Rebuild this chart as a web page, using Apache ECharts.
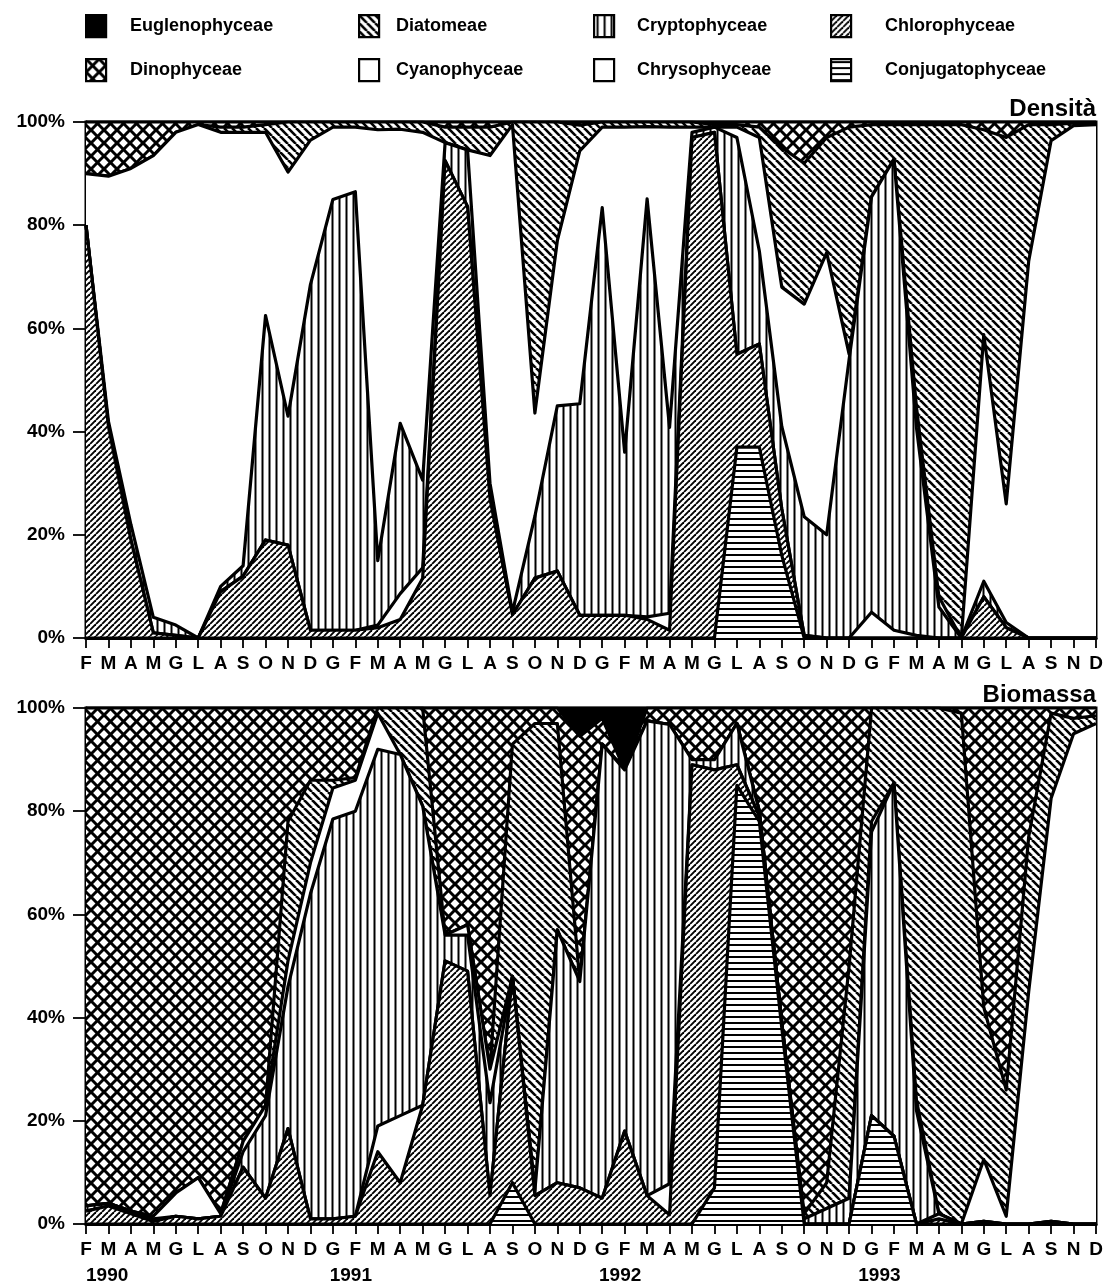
<!DOCTYPE html>
<html lang="it">
<head>
<meta charset="UTF-8">
<title>Fitoplancton - Densità e Biomassa</title>
<script src="https://cdn.jsdelivr.net/npm/echarts@6/dist/echarts.min.js"></script>
<style>
    html, body { margin: 0; padding: 0; background: #fff; }
    #container { width: 1109px; height: 1288px; }
</style>
</head>
<body>
<div id="container"></div>
<script>
    // mesi di campionamento, febbraio 1990 - dicembre 1993
    var mesi = ['F','M','A','M','G','L','A','S','O','N','D',
                'G','F','M','A','M','G','L','A','S','O','N','D',
                'G','F','M','A','M','G','L','A','S','O','N','D',
                'G','F','M','A','M','G','L','A','S','N','D'];
    var anni = ['1990', '1991', '1992', '1993'];
    var yTicks = [0, 20, 40, 60, 80, 100];

    // Densità (%)
    var dConj    = [0,0,0,0,0,0,0,0,0,0,0, 0,0,0,0,0,0,0,0,0,0,0,0, 0,0,0,0,0,0,37,37,16,0,0,0, 0,0,0,0,0,0,0,0,0,0,0];
    var dChloro  = [80,41,19,1,0.5,0,9,12,19,18,1.5, 1.5,1.5,2,3.6,11.6,92.5,83.6,27,4.5,11.6,13,4.4, 4.4,4.4,3.6,1.5,97,98,18,20,9,0.5,0,0, 0,0,0,0,0,8,2,0,0,0,0];
    var dChryso  = [0,0,0,0,0,0,0,0,0,0,0, 0,0,0.5,5,2,0,0,0,0,0,0,0, 0,0,0.5,3.3,0,0,0,0,0,0,0,0, 5,1.5,0.5,0,0,0,0,0,0,0,0];
    var dCrypto  = [0,1,3,3,2,0,1,2,43.5,25,67, 83.5,85,12.5,33,17,3.5,11,3,0.5,12,32,41, 79,31.6,81,36,1,1,42,18,16,23,20,54, 80.5,91.3,40.3,6,0,3,1,0,0,0,0];
    var dCyano   = [10,47.5,69,89.5,95.5,99.5,88,84,35.5,47.3,28, 14,12.5,83.5,57,67.4,0,0,63.5,94.5,20,32,49, 15.6,63,14,58.2,1,0,2,22,27,41.2,54.7,1, 0,0,4,2,0,47.8,23,73,96.4,99.3,99.5];
    var dDiatom  = [0,0,0,0,0,0,1,1,1.5,9.7,3.5, 1,1,1.5,1.4,2,3,4.4,5.5,0.5,56.4,23,5, 1,1,0.9,1,1,0.5,0.5,2,27,27.3,22.3,44, 14,6.7,54.7,91.5,99.5,39.7,71,26.5,3.1,0.5,0.3];
    var dDino    = [10,10.5,9,6.5,2,0.5,1,1,0.5,0,0, 0,0,0,0,0,1,1,1,0,0,0,0.6, 0,0,0,0,0,0.5,0.5,1,5,8,3,1, 0.5,0.5,0.5,0.5,0.5,1.5,3,0.5,0.5,0.2,0.2];
    var dEugleno = [0,0,0,0,0,0,0,0,0,0,0, 0,0,0,0,0,0,0,0,0,0,0,0, 0,0,0,0,0,0,0,0,0,0,0,0, 0,0,0,0,0,0,0,0,0,0,0];

    // Biomassa (%)
    var bConj    = [0,0,0,0,0,0,0,0,0,0,0, 0,0,0,0,0,0,0,0,8,0,0,0, 0,0,0,0,0,7,85,78,38,0,0,0, 21,17,0,0,0,0,0,0,0,0,0];
    var bChloro  = [2.5,3.5,2,0.5,1.5,1,1.5,11,5,18.5,1, 1,1.5,14,8,23,51,49,5.5,40,5.5,8,7, 5,18,5.5,1.8,89,81,4,1,1,0,0,0, 0,0,0,1,0,0.5,0,0,0.5,0,0];
    var bChryso  = [0,0,0,0,0,0,0,0,0,0,0, 0,0,5,13,0,0,0,0,0,0,0,0, 0,0,0,6,0,0,0,0,0,0,0,0, 0,0,0,1,0,0,0,0,0,0,0];
    var bCrypto  = [1,0.5,0.5,0.5,0,0,0,3,16,27.5,63, 77.5,78.5,73,70,58,5,7,18,0,1,49,40, 88,70,92,89,1,2,8,1,0,1,3,5, 55,68.5,22,0,0,0,0,0,0,0,0];
    var bCyano   = [0,0,0,0.5,4.5,8,0.5,2,2,5,6, 6,6,7,0,0,0,2,6.5,0,0,0,0, 0,0,0,0,0,0,0,0,0,0,0,0, 2,0,2,0,0,12,1.5,45,82,95,97];
    var bDiatom  = [0,0,0,0,0,0,0,0,0,27,16, 1.5,0.5,1,9,19,0,0,0,45,90.5,40,0, 0,0,0,0,0,0,0,0,0,1,5,45, 22,14.5,76,98,99,29.5,24.5,30,16.5,3,1.5];
    var bDino    = [96.5,96,97.5,98.5,94,91,98,84,77,22,14, 14,13.5,0,0,0,44,42,70,7,3,3,47.5, 5,0,2.5,3.2,10,10,3,20,61,98,92,50, 0,0,0,0,1,58,74,25,1,2,1.5];
    var bEugleno = [0,0,0,0,0,0,0,0,0,0,0, 0,0,0,0,0,0,0,0,0,0,0,5.5, 2,12,0,0,0,0,0,0,0,0,0,0, 0,0,0,0,0,0,0,0,0,0,0];

    var FONT = '"Liberation Sans", Arial, Helvetica, sans-serif';

    // retini in bianco e nero
    function retino(w, h, disegna) {
        var c = document.createElement('canvas');
        c.width = w; c.height = h;
        var ctx = c.getContext('2d');
        ctx.fillStyle = '#fff';
        ctx.fillRect(0, 0, w, h);
        ctx.strokeStyle = '#000';
        disegna(ctx, w, h);
        return { image: c, repeat: 'repeat' };
    }
    function diagonali(ctx, w, h, versoDestra) {
        for (var k = -1; k <= 1; k++) {
            ctx.beginPath();
            if (versoDestra) { ctx.moveTo(k * w, 0); ctx.lineTo(k * w + w, h); }
            else { ctx.moveTo(k * w, h); ctx.lineTo(k * w + w, 0); }
            ctx.stroke();
        }
    }
    var pieno = '#000';
    var bianco = '#fff';
    var reticolo = retino(13, 13, function (ctx, w, h) {
        ctx.lineWidth = 3;
        diagonali(ctx, w, h, true);
        diagonali(ctx, w, h, false);
    });
    var rovescio = retino(8, 8, function (ctx, w, h) {   // \\\
        ctx.lineWidth = 2.6;
        diagonali(ctx, w, h, true);
    });
    var obliquo = retino(6, 6, function (ctx, w, h) {    // ///
        ctx.lineWidth = 1.9;
        diagonali(ctx, w, h, false);
    });
    var verticale = retino(7, 4, function (ctx, w, h) {
        ctx.lineWidth = 2;
        ctx.beginPath(); ctx.moveTo(3.5, 0); ctx.lineTo(3.5, h); ctx.stroke();
    });
    var orizzontale = retino(4, 6, function (ctx, w, h) {
        ctx.lineWidth = 2;
        ctx.beginPath(); ctx.moveTo(0, 3); ctx.lineTo(w, 3); ctx.stroke();
    });

    // dal basso verso l'alto della pila
    var classi = [
        { nome: 'Conjugatophyceae', fill: orizzontale, dens: dConj,    biom: bConj },
        { nome: 'Chlorophyceae',    fill: obliquo,     dens: dChloro,  biom: bChloro },
        { nome: 'Chrysophyceae',    fill: bianco,      dens: dChryso,  biom: bChryso },
        { nome: 'Cryptophyceae',    fill: verticale,   dens: dCrypto,  biom: bCrypto },
        { nome: 'Cyanophyceae',     fill: bianco,      dens: dCyano,   biom: bCyano },
        { nome: 'Diatomeae',        fill: rovescio,    dens: dDiatom,  biom: bDiatom },
        { nome: 'Dinophyceae',      fill: reticolo,    dens: dDino,    biom: bDino },
        { nome: 'Euglenophyceae',   fill: pieno,       dens: dEugleno, biom: bEugleno }
    ];
    function fillDi(nome) {
        for (var i = 0; i < classi.length; i++) if (classi[i].nome === nome) return classi[i].fill;
    }

    var series = [];
    classi.forEach(function (cl, i) {
        [['dens', 0, 'dens'], ['biom', 1, 'biom']].forEach(function (p) {
            series.push({
                name: cl.nome,
                type: 'line',
                xAxisIndex: p[1],
                yAxisIndex: p[1],
                stack: p[2],
                data: cl[p[0]],
                symbol: 'none',
                z: 20 - i,
                silent: true,
                itemStyle: { color: '#000' },
                lineStyle: { color: '#000', width: 3.2, join: 'round' },
                areaStyle: { color: cl.fill, opacity: 1 },
                emphasis: { disabled: true }
            });
        });
    });

    // legenda su due righe, quattro colonne
    var voci = [
        { nome: 'Euglenophyceae',   left: 85,  top: 14, gap: 19 },
        { nome: 'Diatomeae',        left: 358, top: 14, gap: 12 },
        { nome: 'Cryptophyceae',    left: 593, top: 14, gap: 18 },
        { nome: 'Chlorophyceae',    left: 830, top: 14, gap: 29 },
        { nome: 'Dinophyceae',      left: 85,  top: 58, gap: 19 },
        { nome: 'Cyanophyceae',     left: 358, top: 58, gap: 12 },
        { nome: 'Chrysophyceae',    left: 593, top: 58, gap: 18 },
        { nome: 'Conjugatophyceae', left: 830, top: 58, gap: 29 }
    ];
    var legende = voci.map(function (v) {
        return {
            left: v.left, top: v.top,
            padding: 0,
            itemWidth: 20, itemHeight: 22,
            selectedMode: false,
            textStyle: { fontFamily: FONT, fontSize: 18, fontWeight: 'bold', color: '#000', padding: [0, 0, 0, v.gap] },
            data: [{
                name: v.nome,
                icon: 'rect',
                itemStyle: { color: fillDi(v.nome), borderColor: '#000', borderWidth: 2.2 }
            }]
        };
    });

    function asseX(grid) {
        return {
            type: 'category', gridIndex: grid, data: mesi, boundaryGap: false,
            axisLine: { show: true, lineStyle: { color: '#000', width: 3 } },
            axisTick: { show: true, interval: 0, length: 10, lineStyle: { color: '#000', width: 1.8 } },
            axisLabel: { interval: 0, margin: 16, color: '#000', fontFamily: FONT, fontSize: 19, fontWeight: 'bold' },
            splitLine: { show: false }
        };
    }
    function asseY(grid) {
        return {
            type: 'value', gridIndex: grid, min: yTicks[0], max: yTicks[yTicks.length - 1], interval: 20,
            axisLine: { show: true, lineStyle: { color: '#000', width: 3 } },
            axisTick: { show: true, length: 13, lineStyle: { color: '#000', width: 1.8 } },
            axisLabel: { formatter: '{value}%', margin: 21, color: '#000', fontFamily: FONT, fontSize: 19, fontWeight: 'bold' },
            splitLine: { show: false }
        };
    }

    var chart = echarts.init(document.getElementById('container'), null, { renderer: 'canvas' });
    chart.setOption({
        animation: false,
        backgroundColor: '#fff',
        title: [
            { text: 'Densità', right: 13, top: 97, padding: 0,
              textStyle: { fontFamily: FONT, fontSize: 24, fontWeight: 'bold', color: '#000' } },
            { text: 'Biomassa', right: 13, top: 683, padding: 0,
              textStyle: { fontFamily: FONT, fontSize: 24, fontWeight: 'bold', color: '#000' } }
        ],
        legend: legende,
        grid: [
            { left: 86, right: 13, top: 122, height: 516, show: true, borderColor: '#000', borderWidth: 3, containLabel: false },
            { left: 86, right: 13, top: 708, height: 516, show: true, borderColor: '#000', borderWidth: 3, containLabel: false }
        ],
        xAxis: [asseX(0), asseX(1)],
        yAxis: [asseY(0), asseY(1)],
        series: series
    });

    // anni sotto l'asse della biomassa
    function pixelX(pos) {
        var i = Math.floor(pos), f = pos - i;
        var a = chart.convertToPixel({ xAxisIndex: 1 }, i);
        var b = chart.convertToPixel({ xAxisIndex: 1 }, i + 1);
        return a + f * (b - a);
    }
    var posAnni = [0, 11.8, 23.8, 35.35];
    chart.setOption({
        graphic: anni.map(function (a, k) {
            return {
                type: 'text',
                x: pixelX(posAnni[k]),
                y: 1276,
                style: {
                    text: a, fill: '#000',
                    font: 'bold 19px ' + FONT,
                    align: k === 0 ? 'left' : 'center',
                    verticalAlign: 'middle'
                }
            };
        })
    });
</script>
</body>
</html>
